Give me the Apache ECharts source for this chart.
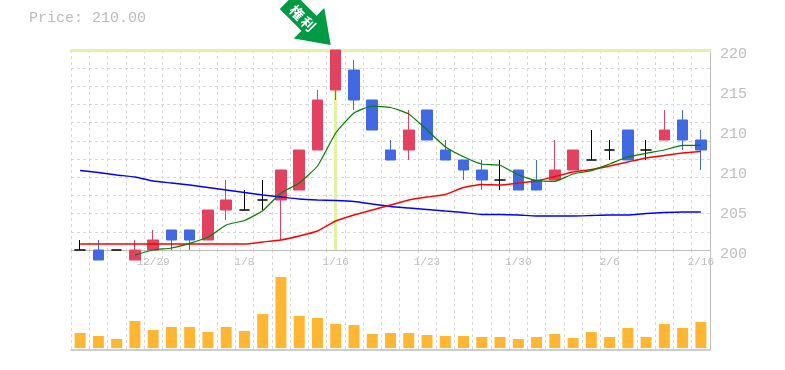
<!DOCTYPE html>
<html><head><meta charset="utf-8">
<style>html,body{margin:0;padding:0;background:#fff}#c{width:785px;height:370px}</style>
<script src="https://cdn.jsdelivr.net/npm/echarts@6/dist/echarts.min.js"></script>
</head><body><div id="c"></div>
<script>
const dateLabels=['','','','','12/29','','','','','1/8','','','','','1/16','','','','','1/23','','','','','1/30','','','','','2/6','','','','','2/16'];
const opens =[200,200,200,199,200,202,202,201,204,204,205,205,206,210,216,218,215,210,210,214,210,209,208,207,208,207,207,208,209,210,212,210,211,213,211];
const closes=[200,199,200,200,201,201,201,204,205,204,205,208,210,215,220,215,212,209,212,211,209,208,207,207,206,206,208,210,209,210,209,210,212,211,210];
const lows  =[200,199,200,199,200,200,200,201,203,204,204,201,206,210,215,214,212,209,209,211,209,207,206,206,206,206,207,208,209,209,209,209,211,210,208];
const highs =[201,201,200,201,202,202,202,204,207,206,207,208,210,216,220,219,215,211,214,214,211,209,209,209,208,209,211,210,212,211,212,211,214,214,212];
const volumes=[15,12,9,27,18,21,21,16,21,17,34,71,32,30,24,23,14,15,15,13,12,12,11,11,9,11,14,10,16,11,20,11,24,20,26];
const maShort=[null,null,null,199.5,200,200.2,200.67,201.27,202.5,202.95,203.93,205.7,206.7,208.4,211.7,213.7,214.4,214.25,213.6,212,210.33,209.33,208.6,208.47,207.5,206.93,206.87,207.6,207.93,208.6,209.3,209.67,210,210.47,210.47];
const maMid=[200.6,200.6,200.6,200.6,200.6,200.6,200.6,200.6,200.6,200.6,200.8,201,201.4,201.9,202.9,203.5,204,204.5,205,205.3,205.55,206.25,206.55,206.5,206.7,206.9,207.35,207.8,208.05,208.4,208.8,209.2,209.45,209.7,209.85];
const maLong=[207.95,207.75,207.5,207.3,206.9,206.7,206.5,206.25,206,205.75,205.5,205.3,205.1,205,204.95,204.85,204.6,204.35,204.2,204.05,203.9,203.75,203.55,203.55,203.5,203.4,203.4,203.4,203.45,203.5,203.5,203.65,203.75,203.8,203.8];
const priceTicks={200:'200',204:'205',208:'210',212:'210',216:'215',220:'220'};
const priceText='Price: 210.00';
const markerChars=['権','利'];
const markerIndex=14;

const mono='"Liberation Mono","DejaVu Sans Mono",monospace';
const gridLine={show:true,lineStyle:{color:'#d8d8d8',type:[3,3],width:1}};
const axisGray='#bdbdbd';
const lime='#e1f3a0';
const charLabel=(t,ox,oy)=>({coord:[markerIndex,220],symbol:'circle',symbolSize:1,itemStyle:{color:'rgba(0,0,0,0)'},
  label:{show:true,formatter:t,color:'#fff',fontSize:14,fontWeight:'bold',fontFamily:'"Noto Sans CJK JP"',rotate:-45,position:'inside',offset:[ox,oy]}});
const chart=echarts.init(document.getElementById('c'),null,{renderer:'canvas'});
chart.setOption({
  animation:false,
  backgroundColor:'#fff',
  title:{text:priceText,left:29,top:11,padding:0,textStyle:{color:'#bbb',fontFamily:mono,fontSize:15,fontWeight:'normal'}},
  grid:[{left:71,right:75,top:50,height:200},{left:71,right:75,top:250,height:100}],
  xAxis:[
   {type:'category',gridIndex:0,data:dateLabels,boundaryGap:true,
    axisLine:{onZero:false,lineStyle:{color:axisGray,width:1}},axisTick:{show:false},
    axisLabel:{interval:0,color:'#bdbdbd',fontFamily:mono,fontSize:11,margin:7,hideOverlap:false},
    splitLine:{...gridLine,interval:0}},
   {type:'category',gridIndex:1,data:dateLabels,boundaryGap:true,
    axisLine:{onZero:false,lineStyle:{color:axisGray,width:1.5}},axisTick:{show:false},axisLabel:{show:false},
    splitLine:{...gridLine,interval:0}},
   {type:'category',gridIndex:0,position:'top',data:dateLabels,boundaryGap:true,
    axisLine:{show:true,onZero:false,lineStyle:{color:lime,width:3}},axisTick:{show:false},axisLabel:{show:false},splitLine:{show:false}}
  ],
  yAxis:[
   {type:'value',gridIndex:0,min:0,max:11,interval:1,axisLabel:{show:false},axisLine:{show:false},axisTick:{show:false},splitLine:gridLine},
   {type:'value',gridIndex:0,position:'right',min:200,max:220,interval:4,
    axisLine:{show:true,lineStyle:{color:axisGray,width:1}},axisTick:{show:false},splitLine:{show:false},
    axisLabel:{color:'#bdbdbd',fontFamily:mono,fontSize:15,margin:10,formatter:v=>priceTicks[v],verticalAlign:'top',padding:[-3,0,0,0]}},
   {type:'value',gridIndex:1,position:'right',min:-2,max:98,interval:100,
    axisLine:{show:true,onZero:false,lineStyle:{color:axisGray,width:1}},axisTick:{show:false},axisLabel:{show:false},splitLine:{show:false}}
  ],
  series:[
   {type:'line',name:'marks',xAxisIndex:0,yAxisIndex:1,data:[],z:1,silent:true,clip:false,
    markLine:{silent:true,clip:false,symbol:'none',z:1,label:{show:false},animation:false,
      lineStyle:{color:lime,type:'solid',width:3},
      data:[{xAxis:markerIndex}]},
    markPoint:{silent:true,z:20,animation:false,data:[
     {coord:[markerIndex,220],
      symbol:'path://M11 0 L32.2 0 L32.2 30.8 L43.2 30.8 L21.6 61.5 L0 30.8 L11 30.8 Z',
      symbolKeepAspect:false,symbolSize:[43.2,61.5],symbolRotate:45,symbolOffset:[-26.75,-26.75],
      itemStyle:{color:'#009944'},label:{show:false}},
     charLabel(markerChars[0],-54,1),
     charLabel(markerChars[1],-38,1)
    ]}},
   {type:'candlestick',xAxisIndex:0,yAxisIndex:1,z:3,clip:false,barWidth:11,
    data:opens.map((o,i)=>[o,closes[i],lows[i],highs[i]]),
    itemStyle:{color:'#e2425f',color0:'#4169e1',borderColor:'#e2425f',borderColor0:'#4169e1',borderColorDoji:'#000',borderWidth:1}},
   {type:'line',xAxisIndex:0,yAxisIndex:1,z:4,clip:false,smooth:0.15,data:maLong,showSymbol:false,symbol:'none',lineStyle:{color:'#0000ff',width:1.4}},
   {type:'line',xAxisIndex:0,yAxisIndex:1,z:4,clip:false,smooth:0.15,data:maMid,showSymbol:false,symbol:'none',lineStyle:{color:'#ff0000',width:1.4}},
   {type:'line',xAxisIndex:0,yAxisIndex:1,z:5,clip:false,smooth:0.15,data:maShort,showSymbol:false,symbol:'none',lineStyle:{color:'#008000',width:1.2}},
   {type:'bar',xAxisIndex:1,yAxisIndex:2,data:volumes,barWidth:11,itemStyle:{color:'#ffb733'}}
  ]
});
</script></body></html>
